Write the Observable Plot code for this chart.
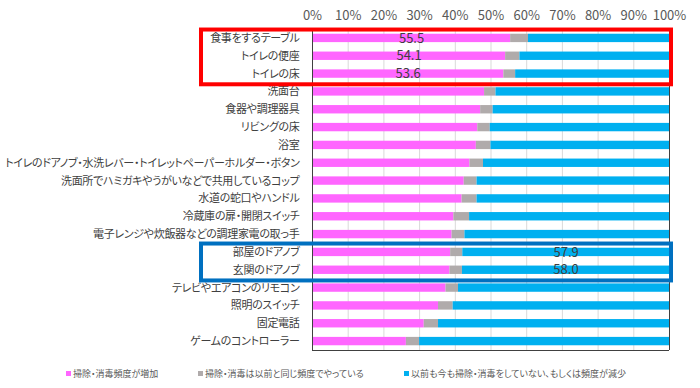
<!DOCTYPE html>
<html><head><meta charset="utf-8">
<script src="https://cdn.jsdelivr.net/npm/d3@7"></script>
<script src="https://cdn.jsdelivr.net/npm/@observablehq/plot@0.6"></script>
<style>
body{margin:0;background:#fff;font-family:"Noto Sans CJK JP","Noto Sans",sans-serif;width:700px;height:388px;overflow:hidden;}
#chart svg{display:block;font-family:"Noto Sans CJK JP","Noto Sans",sans-serif;}
#chart text{font-feature-settings:"palt";}
#chart g.yaxis text{letter-spacing:-0.3px;}
#legend{position:relative;height:28px;font-size:9px;color:#595959;font-feature-settings:"palt";}
#legend .item{position:absolute;top:6px;height:14px;display:flex;align-items:center;white-space:nowrap;}
#legend .sw{width:5px;height:5px;margin-right:2px;display:inline-block;}
</style></head><body>
<div id="chart"></div>
<div id="legend"></div>
<script>
const categories = ["食事をするテーブル","トイレの便座","トイレの床","洗面台","食器や調理器具","リビングの床","浴室","トイレのドアノブ・水洗レバー・トイレットペーパーホルダー・ボタン","洗面所でハミガキやうがいなどで共用しているコップ","水道の蛇口やハンドル","冷蔵庫の扉・開閉スイッチ","電子レンジや炊飯器などの調理家電の取っ手","部屋のドアノブ","玄関のドアノブ","テレビやエアコンのリモコン","照明のスイッチ","固定電話","ゲームのコントローラー"];
const increased = [55.5,54.1,53.6,48.2,47.1,46.3,45.9,44.1,42.5,41.9,39.6,39.1,38.7,38.5,37.4,35.3,31.3,26.3];
const same =      [5.0,4.0,3.3,3.2,3.5,3.5,4.1,3.8,3.6,4.2,4.4,3.6,3.4,3.5,3.5,4.1,4.0,3.7];
const decreased = [39.5,41.9,43.1,48.6,49.4,50.2,50.0,52.1,53.9,53.9,56.0,57.3,57.9,58.0,59.1,60.6,64.7,70.0];
const seriesNames = ["掃除・消毒頻度が増加","掃除・消毒は以前と同じ頻度でやっている","以前も今も掃除・消毒をしていない、もしくは頻度が減少"];
const seriesColors = ["#FF66FF","#B0ABAB","#00B0F0"];
const xTicks = [0,10,20,30,40,50,60,70,80,90,100];
const labelled = [["食事をするテーブル",0],["トイレの便座",0],["トイレの床",0],["部屋のドアノブ",2],["玄関のドアノブ",2]];
const highlights = [
  {first:"食事をするテーブル", last:"トイレの床", color:"#FF0000"},
  {first:"部屋のドアノブ", last:"玄関のドアノブ", color:"#0070C0"}
];

const seriesValues = [increased, same, decreased];
const half = 0.235;
const rows = [];
categories.forEach((c,i)=>{
  let acc = 0;
  seriesValues.forEach((arr,s)=>{
    rows.push({idx:i, category:c, series:seriesNames[s], x1:acc, x2:acc+arr[i]});
    acc += arr[i];
  });
});
const labelRows = labelled.map(([c,s])=>{
  const i = categories.indexOf(c);
  let start = 0; for (let k=0;k<s;k++) start += seriesValues[k][i];
  const v = seriesValues[s][i];
  return {idx:i, mid:start+v/2, text:v.toFixed(1)};
});

const boxMark = (index, scales) => {
  const g = d3.create("svg:g");
  const y = scales.y, x = scales.x;
  const xr = x(100) + 2;
  const xl = 201;
  for (const h of highlights) {
    const top = y(categories.indexOf(h.first) - 0.47);
    const bot = y(categories.indexOf(h.last) + 0.6);
    g.append("rect").attr("x",xl).attr("y",top).attr("width",xr-xl).attr("height",bot-top)
      .attr("fill","none").attr("stroke",h.color).attr("stroke-width",4);
  }
  return g.node();
};

const chart = Plot.plot({
  width:700, height:360,
  marginTop:29, marginBottom:10, marginLeft:312, marginRight:31,
  x:{domain:[0,100]},
  y:{type:"linear", domain:[-0.5, categories.length-0.5], range:[29,350]},
  color:{domain:seriesNames, range:seriesColors},
  marks:[
    Plot.ruleX(xTicks.filter(t=>t>0&&t<100), {stroke:"#d9d9d9", strokeWidth:1}),
    Plot.rect(rows, {x1:"x1", x2:"x2", y1:d=>d.idx-half, y2:d=>d.idx+half, fill:"series"}),
    Plot.ruleX([0,100], {stroke:"#404040", strokeWidth:1}),
    Plot.ruleY([categories.length-0.5], {stroke:"#404040", strokeWidth:1}),
    Plot.axisX(xTicks, {anchor:"top", tickSize:0, tickPadding:10, tickFormat:d=>d+"%", fontSize:13, fill:"#595959", label:null}),
    Plot.axisY(d3.range(categories.length), {tickSize:0, tickPadding:13, fontSize:11, fill:"#404040", label:null, tickFormat:i=>categories[i], className:"yaxis"}),
    Plot.text(labelRows, {x:"mid", y:"idx", text:"text", fontSize:13, fill:"#404040"}),
    boxMark
  ]
});
document.getElementById("chart").appendChild(chart);

const legendLeft = [66,198,404];
const lg = document.getElementById("legend");
seriesNames.forEach((n,i)=>{
  const it = document.createElement("div");
  it.className="item"; it.style.left = legendLeft[i]+"px";
  const sw = document.createElement("span"); sw.className="sw"; sw.style.background = seriesColors[i];
  const tx = document.createElement("span"); tx.textContent = n;
  it.appendChild(sw); it.appendChild(tx); lg.appendChild(it);
});
</script>
</body></html>
